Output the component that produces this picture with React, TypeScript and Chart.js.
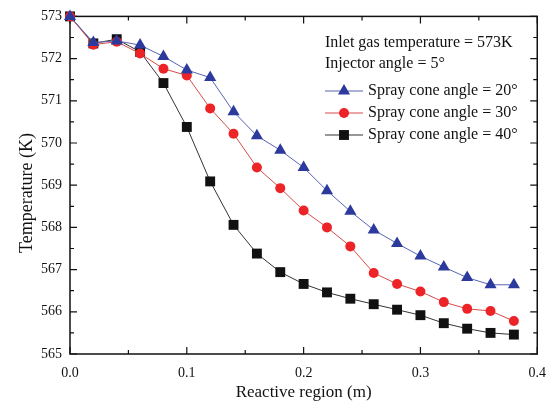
import React, { useEffect, useRef } from "react";
import { Chart, registerables } from "chart.js";

Chart.register(...registerables);

const positions = [0, 0.02, 0.04, 0.06, 0.08, 0.1, 0.12, 0.14, 0.16, 0.18, 0.2, 0.22, 0.24, 0.26, 0.28, 0.3, 0.32, 0.34, 0.36, 0.38];
const cone20 = [573.0, 572.38, 572.42, 572.32, 572.05, 571.73, 571.55, 570.74, 570.17, 569.83, 569.42, 568.87, 568.38, 567.94, 567.62, 567.32, 567.06, 566.81, 566.64, 566.64];
const cone30 = [573.0, 572.33, 572.4, 572.12, 571.76, 571.6, 570.82, 570.22, 569.42, 568.93, 568.4, 568.0, 567.55, 566.92, 566.66, 566.48, 566.23, 566.07, 566.02, 565.78];
const cone40 = [573.0, 572.36, 572.46, 572.16, 571.42, 570.38, 569.09, 568.06, 567.38, 566.94, 566.66, 566.46, 566.31, 566.18, 566.05, 565.92, 565.73, 565.6, 565.5, 565.46];
const seriesLabels = ["Spray cone angle = 20°", "Spray cone angle = 30°", "Spray cone angle = 40°"];
const noteLines = ["Inlet gas temperature = 573K", "Injector angle = 5°"];
const xTitle = "Reactive region (m)";
const yTitle = "Temperature (K)";

const FONT = "'Liberation Serif', 'Times New Roman', serif";

const styles = [
  { line: "#5963b4", fill: "#2b3a9c", shape: "triangle", r: 7 },
  { line: "#d84a4a", fill: "#ec2327", shape: "circle", r: 5 },
  { line: "#333333", fill: "#111111", shape: "rect", r: 7 },
];

function drawMarker(ctx: CanvasRenderingContext2D, shape: string, x: number, y: number, r: number, color: string) {
  ctx.save();
  ctx.fillStyle = color;
  ctx.beginPath();
  if (shape === "circle") {
    ctx.arc(x, y, r, 0, Math.PI * 2);
  } else if (shape === "rect") {
    const s = Math.SQRT1_2 * r;
    ctx.rect(x - s, y - s, 2 * s, 2 * s);
  } else {
    const h = r * 0.5;
    const w = r * Math.sin(Math.PI / 3);
    ctx.moveTo(x, y - r);
    ctx.lineTo(x + w, y + h);
    ctx.lineTo(x - w, y + h);
    ctx.closePath();
  }
  ctx.fill();
  ctx.restore();
}

const framePlugin = {
  id: "frameTicks",
  beforeDatasetsDraw(chart: any) {
    const ctx = chart.ctx as CanvasRenderingContext2D;
    const { left, right, top, bottom } = chart.chartArea;
    const xs = chart.scales.x;
    const ys = chart.scales.y;
    ctx.save();
    ctx.strokeStyle = "#111";
    ctx.lineWidth = 1.5;
    ctx.strokeRect(left, top, right - left, bottom - top);
    ctx.lineWidth = 1.2;
    ctx.beginPath();
    for (let i = 0; i <= 8; i++) {
      const v = i * 0.05;
      const px = xs.getPixelForValue(v);
      const len = i % 2 === 0 ? 7 : 4;
      ctx.moveTo(px, bottom);
      ctx.lineTo(px, bottom - len);
      ctx.moveTo(px, top);
      ctx.lineTo(px, top + len);
    }
    for (let i = 0; i <= 16; i++) {
      const v = 565 + i * 0.5;
      const py = ys.getPixelForValue(v);
      const len = i % 2 === 0 ? 7 : 4;
      ctx.moveTo(left, py);
      ctx.lineTo(left + len, py);
      ctx.moveTo(right, py);
      ctx.lineTo(right - len, py);
    }
    ctx.stroke();
    // y axis title
    ctx.save();
    ctx.translate(27, 193);
    ctx.rotate(-Math.PI / 2);
    ctx.font = `18px ${FONT}`;
    ctx.fillStyle = "#111";
    ctx.textAlign = "center";
    ctx.textBaseline = "middle";
    ctx.fillText(yTitle, 0, 0);
    ctx.restore();
    ctx.restore();
  },
  afterDraw(chart: any) {
    const ctx = chart.ctx as CanvasRenderingContext2D;
    ctx.save();
    ctx.font = `16px ${FONT}`;
    ctx.fillStyle = "#111";
    ctx.textBaseline = "middle";
    ctx.textAlign = "left";
    const x0 = 325;
    ctx.fillText(noteLines[0], x0, 43);
    ctx.fillText(noteLines[1], x0, 64);
    const rows = [91, 113, 135];
    seriesLabels.forEach((label, i) => {
      const st = styles[i];
      const y = rows[i];
      ctx.strokeStyle = st.line;
      ctx.lineWidth = 1;
      ctx.beginPath();
      ctx.moveTo(x0, y);
      ctx.lineTo(x0 + 38, y);
      ctx.stroke();
      drawMarker(ctx, st.shape, x0 + 19, y, st.r, st.fill);
      ctx.fillStyle = "#111";
      ctx.fillText(label, x0 + 43, y);
    });
    ctx.restore();
  },
};

export default function App() {
  const ref = useRef<HTMLCanvasElement>(null);
  useEffect(() => {
    if (!ref.current) return;
    const series = [cone20, cone30, cone40];
    const chart = new Chart(ref.current, {
      type: "line",
      data: {
        datasets: series.map((vals, i) => ({
          label: seriesLabels[i],
          data: positions.map((x, j) => ({ x, y: vals[j] })),
          borderColor: styles[i].line,
          backgroundColor: styles[i].fill,
          pointBackgroundColor: styles[i].fill,
          pointBorderColor: styles[i].fill,
          pointBorderWidth: 0,
          pointStyle: styles[i].shape as any,
          pointRadius: styles[i].r,
          borderWidth: 1,
          tension: 0,
          clip: false as any,
        })),
      },
      options: {
        responsive: false,
        animation: false,
        layout: { padding: { top: 12, right: 18, left: 0, bottom: 0 } },
        plugins: { legend: { display: false }, tooltip: { enabled: false } },
        scales: {
          x: {
            type: "linear",
            min: 0,
            max: 0.4,
            grid: { display: false, drawTicks: false },
            border: { display: false },
            ticks: {
              stepSize: 0.1,
              padding: 11,
              color: "#111",
              font: { family: FONT, size: 14 },
              callback: (v: any) => Number(v).toFixed(1),
            },
            title: {
              display: true,
              text: xTitle,
              color: "#111",
              font: { family: FONT, size: 17 },
              padding: { top: 0, bottom: 3 },
            },
            afterFit: (s: any) => {
              s.height = 52;
            },
          },
          y: {
            min: 565,
            max: 573,
            grid: { display: false, drawTicks: false },
            border: { display: false },
            ticks: {
              stepSize: 1,
              padding: 8,
              color: "#111",
              font: { family: FONT, size: 14 },
            },
            afterFit: (s: any) => {
              s.width = 70;
            },
          },
        },
      },
      plugins: [framePlugin],
    });
    return () => chart.destroy();
  }, []);
  return (
    <div style={{ position: "fixed", left: 0, top: 0, width: 557, height: 406, background: "#fff" }}>
      <canvas ref={ref} width={557} height={406} style={{ display: "block", width: 557, height: 406 }} />
    </div>
  );
}
